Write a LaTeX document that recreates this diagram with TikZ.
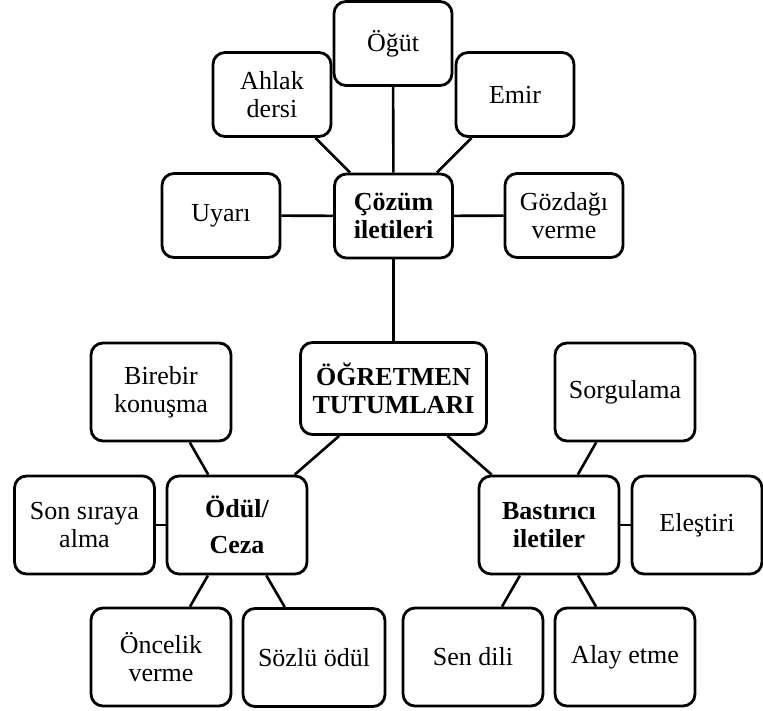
\documentclass[tikz,border=0pt]{standalone}
\usepackage{fontspec}
\setmainfont{Liberation Serif}

\begin{document}
\begin{tikzpicture}[x=0.5pt,y=-0.5pt,
    box/.style={draw, line width=1.4pt, rounded corners=6pt, align=center, inner sep=0pt,
      font=\fontsize{13pt}{14pt}\selectfont},
    smallbox/.style={box, minimum width=59pt, minimum height=42pt},
    bigbox/.style={box, minimum width=70pt, minimum height=49pt},
    hub/.style={font=\fontsize{13pt}{14pt}\selectfont\bfseries},
    link/.style={line width=1.3pt}]
  \useasboundingbox (0,0) rectangle (763,710);
  % centre
  \node[box, hub, minimum width=93pt, minimum height=46pt] (ogretmen) at (393.5,388.5) {ÖĞRETMEN\\TUTUMLARI};
  % upper group
  \node[smallbox, hub] (cozum) at (393.5,216) {Çözüm\\iletileri};
  \node[smallbox] (ogut) at (393,43.5) {Öğüt};
  \node[smallbox] (ahlak) at (272,94.5) {Ahlak\\dersi};
  \node[smallbox] (emir) at (515,94.5) {Emir};
  \node[smallbox] (uyari) at (221,215.5) {Uyarı};
  \node[smallbox] (gozdagi) at (564,215.5) {Gözdağı\\verme};
  % left group
  \node[bigbox, hub] (odul) at (237,525) {Ödül/\\[4pt]Ceza};
  \node[bigbox] (birebir) at (161,392) {Birebir\\konuşma};
  \node[bigbox] (sonsira) at (84.5,525) {Son sıraya\\alma};
  \node[bigbox] (oncelik) at (161,657) {Öncelik\\verme};
  \node[bigbox, minimum width=71pt] (sozlu) at (314,657.5) {Sözlü ödül};
  % right group
  \node[bigbox, hub] (bastirici) at (549,525) {Bastırıcı\\iletiler};
  \node[bigbox] (sorgu) at (625,392) {Sorgulama};
  \node[bigbox, minimum width=65pt] (elestiri) at (697,525) {Eleştiri};
  \node[bigbox] (sendili) at (473,657) {Sen dili};
  \node[bigbox] (alay) at (625,657) {Alay etme};

  \draw[link] (ogretmen) -- (cozum);
  \draw[link] (ogretmen) -- (odul);
  \draw[link] (ogretmen) -- (bastirici);
  \draw[link] (cozum) -- (ogut);
  \draw[link] (cozum) -- (ahlak);
  \draw[link] (cozum) -- (emir);
  \draw[link] (cozum) -- (uyari);
  \draw[link] (cozum) -- (gozdagi);
  \draw[link] (odul) -- (birebir);
  \draw[link] (odul) -- (sonsira);
  \draw[link] (odul) -- (oncelik);
  \draw[link] (odul) -- (sozlu);
  \draw[link] (bastirici) -- (sorgu);
  \draw[link] (bastirici) -- (elestiri);
  \draw[link] (bastirici) -- (sendili);
  \draw[link] (bastirici) -- (alay);
\end{tikzpicture}
\end{document}
